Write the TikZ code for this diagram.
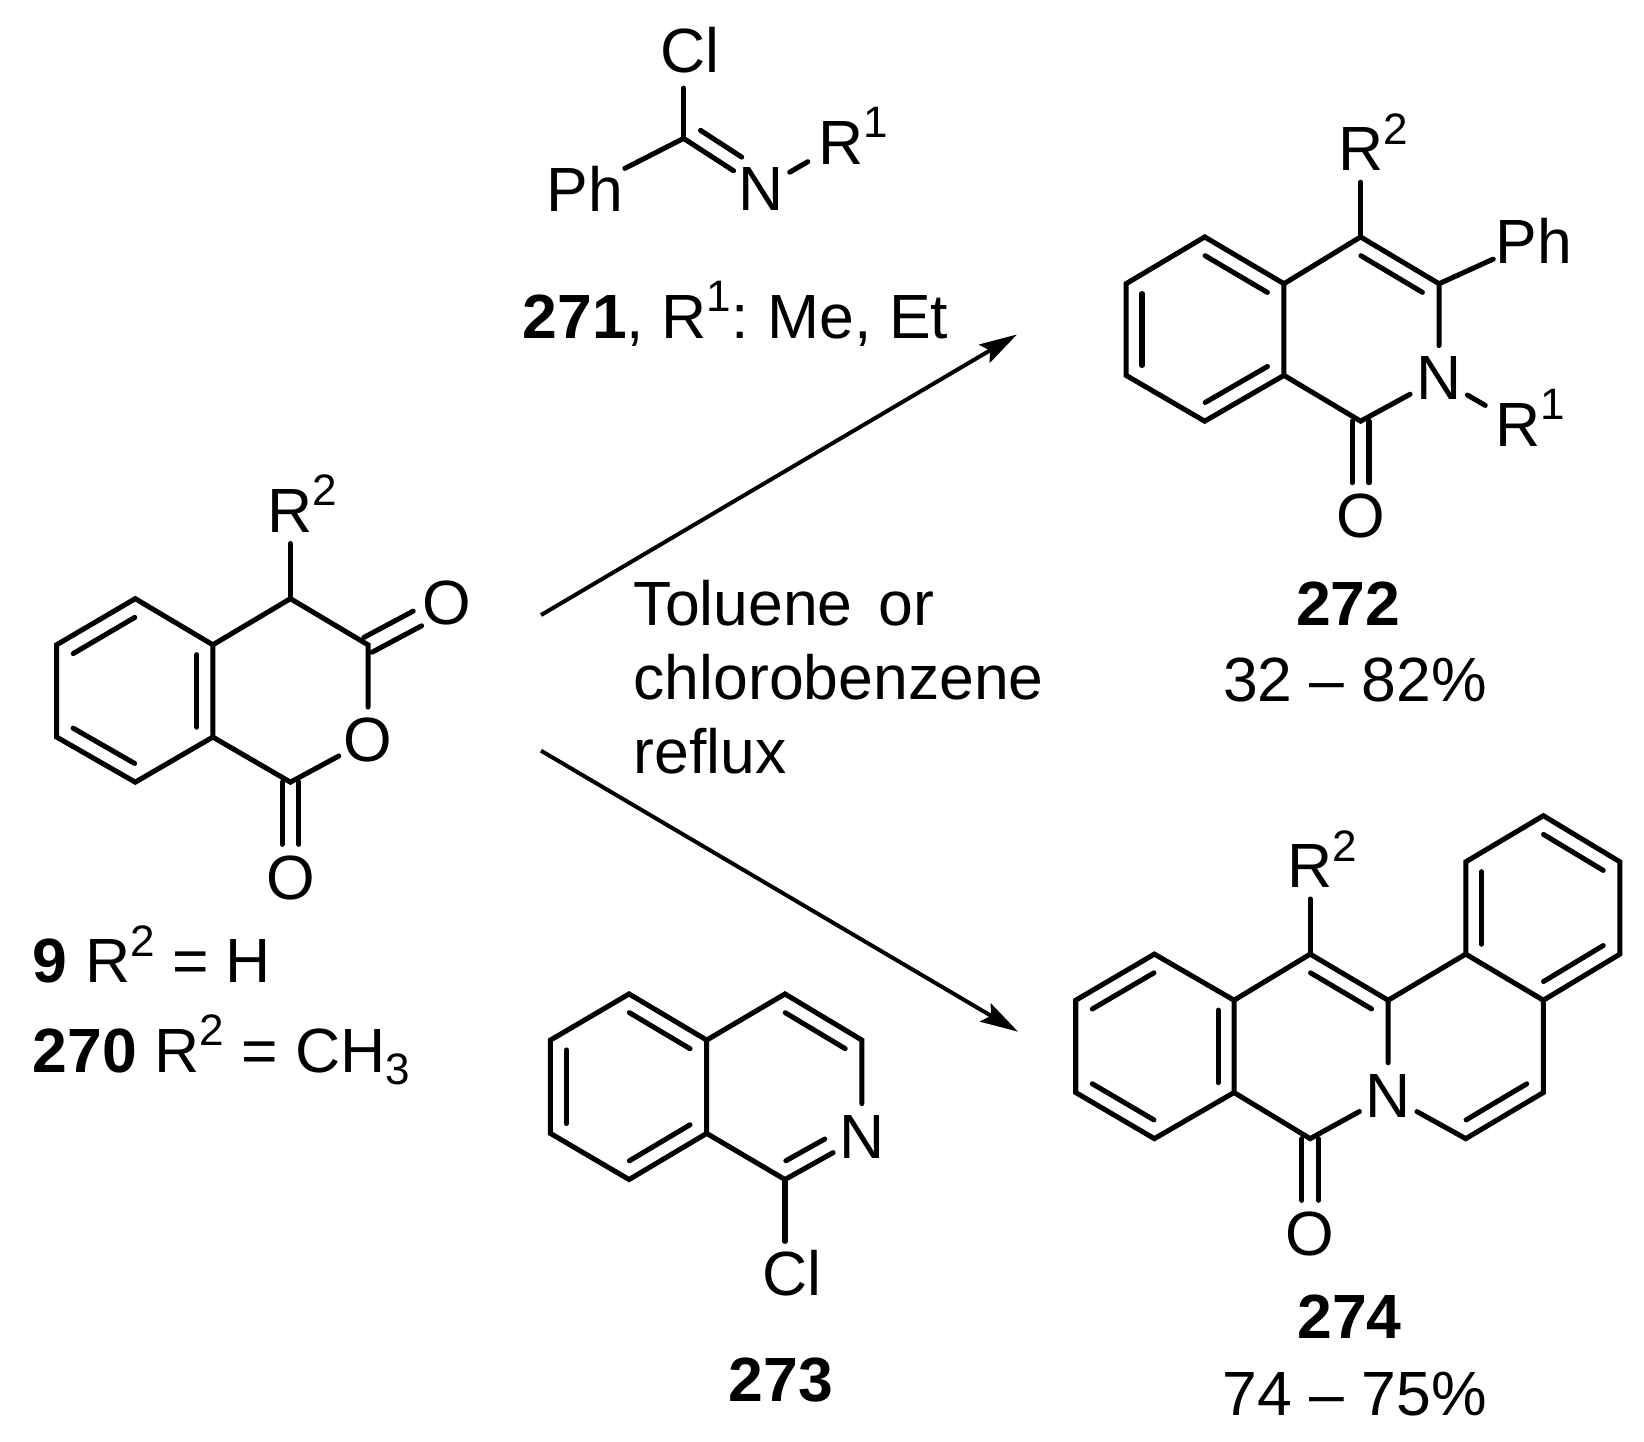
\documentclass[tikz,border=0pt]{standalone}
\usepackage{fontspec}
\setmainfont{Liberation Sans}
\usetikzlibrary{arrows.meta,calc}
\newcommand{\chemsize}{\fontsize{29.8}{29.8}\selectfont}
\newcommand{\supnum}[1]{\smash{\raisebox{12.6pt}{\fontsize{21}{21}\selectfont #1}}}
\newcommand{\subnum}[1]{\smash{\raisebox{-6pt}{\fontsize{21}{21}\selectfont #1}}}
\newcommand{\Rlab}[1]{R\rlap{\supnum{#1}}}
\newcommand{\inbond}[3][4.7pt]{\draw[bond] ($(#2)!4.7pt!(#3)!7.6pt!90:(#3)$) -- ($(#3)!#1!(#2)!7.6pt!-90:(#2)$);}

\begin{document}
\begin{tikzpicture}[x=.5pt,y=-.5pt,
    bond/.style={line width=2.4pt,line cap=round,line join=miter},
    atom/.style={circle,inner sep=0pt,minimum size=31pt,font=\chemsize},
    phatom/.style={atom,minimum size=38pt},
    ratom/.style={atom,minimum size=36pt},
    tag/.style={inner sep=0pt,anchor=base,font=\chemsize},
    lefttag/.style={tag,anchor=base west},
    rxn/.style={line width=1.9pt,-{Stealth[length=18pt,width=10pt,inset=3pt]}}]
    \useasboundingbox (0,0) rectangle (1568,1374.4);
    % 9 / 270
    \coordinate (A_1) at (129,571);
    \coordinate (A_2) at (54,615);
    \coordinate (A_3) at (54,703);
    \coordinate (A_4) at (129,746);
    \coordinate (A_5) at (203,703);
    \coordinate (A_6) at (203,615);
    \coordinate (A_7) at (277,571);
    \coordinate (A_8) at (351,615);
    \coordinate (A_9) at (277,746);
    \node[atom] (A_O1) at (351,706) {O};
    \node[atom] (A_O2) at (426,575) {O};
    \node[atom] (A_O3) at (277,837) {O};
    \node[atom] (A_R) at (277,487) {\Rlab{2}};
    \draw[bond] (A_1) -- (A_2) -- (A_3) -- (A_4) -- (A_5) -- (A_6) -- cycle;
    \draw[bond] (A_6) -- (A_7) -- (A_8) -- (A_O1) -- (A_9) -- (A_5);
    \draw[bond] (A_7) -- (A_R);
    \inbond{A_1}{A_2}
    \inbond{A_3}{A_4}
    \inbond{A_5}{A_6}
    \draw[bond,transform canvas={shift={(2pt,-3.5pt)}}] (A_8) -- (A_O2);
    \draw[bond,transform canvas={shift={(-2pt,3.5pt)}}] (A_8) -- (A_O2);
    \draw[bond,transform canvas={xshift=4pt}] (A_9) -- (A_O3);
    \draw[bond,transform canvas={xshift=-4pt}] (A_9) -- (A_O3);
    \node[lefttag] (A_t1) at (31,937) {\textbf{9} R\supnum{2} = H};
    \node[lefttag] (A_t2) at (31,1022.6) {\textbf{270} R\supnum{2} = CH\subnum{3}};
    % 271
    \coordinate (B_1) at (652,132);
    \node[atom] (B_Cl) at (658,48) {Cl};
    \node[phatom] (B_Ph) at (558,180) {Ph};
    \node[atom] (B_N) at (726,180) {N};
    \node[ratom] (B_R) at (802,136) {\Rlab{1}};
    \coordinate (B_2) at (652,48);
    \draw[bond] (B_1) -- (B_2 |- B_Cl.south);
    \draw[bond] (B_1) -- (B_Ph);
    \draw[bond] (B_1) -- (B_N) (B_N) -- (B_R);
    \inbond[16pt]{B_1}{B_N}
    \node[lefttag] (B_t) at (498,322.7) {\textbf{271}, R\supnum{1}: \kern-2pt Me, Et};
    % 272
    \coordinate (C_1) at (1149,226);
    \coordinate (C_2) at (1074,270.6);
    \coordinate (C_3) at (1074,358);
    \coordinate (C_4) at (1149,401.7);
    \coordinate (C_5) at (1224.6,358);
    \coordinate (C_6) at (1224.6,270.6);
    \coordinate (C_7) at (1297.7,226);
    \coordinate (C_8) at (1372.5,270.6);
    \coordinate (C_9) at (1297.7,401.7);
    \node[atom] (C_N) at (1372.5,361) {N};
    \node[atom] (C_O) at (1297.7,492) {O};
    \node[atom] (C_R2) at (1297.7,142.4) {\Rlab{2}};
    \node[ratom] (C_R1) at (1448,405) {\Rlab{1}};
    \node[phatom] (C_Ph) at (1463,229.5) {Ph};
    \draw[bond] (C_1) -- (C_2) -- (C_3) -- (C_4) -- (C_5) -- (C_6) -- cycle;
    \draw[bond] (C_6) -- (C_7) -- (C_8) -- (C_N) -- (C_9) -- (C_5);
    \draw[bond] (C_7) -- (C_R2);
    \draw[bond] (C_8) -- (C_Ph);
    \draw[bond] (C_N) -- (C_R1);
    \inbond{C_6}{C_1}
    \inbond{C_2}{C_3}
    \inbond{C_4}{C_5}
    \inbond{C_8}{C_7}
    \draw[bond,transform canvas={xshift=4pt}] (C_9) -- (C_O);
    \draw[bond,transform canvas={xshift=-4pt}] (C_9) -- (C_O);
    \node[tag] (C_t1) at (1286,597) {\textbf{272}};
    \node[tag] (C_t2) at (1292.4,669.5) {32 – 82\%};
    % 273
    \coordinate (D_1) at (600,948);
    \coordinate (D_2) at (525,992);
    \coordinate (D_3) at (525,1081);
    \coordinate (D_4) at (600,1125);
    \coordinate (D_5) at (674,1081);
    \coordinate (D_6) at (674,992);
    \coordinate (D_7) at (748.7,948);
    \coordinate (D_8) at (822,992);
    \coordinate (D_9) at (748.7,1125);
    \node[atom] (D_N) at (822,1084) {N};
    \node[atom] (D_Cl) at (755,1214) {Cl};
    \coordinate (D_10) at (748.7,1184);
    \draw[bond] (D_1) -- (D_2) -- (D_3) -- (D_4) -- (D_5) -- (D_6) -- cycle;
    \draw[bond] (D_6) -- (D_7) -- (D_8) -- (D_N) -- (D_9) -- (D_5);
    \draw[bond] (D_9) -- (D_10);
    \inbond{D_6}{D_1}
    \inbond{D_2}{D_3}
    \inbond{D_4}{D_5}
    \inbond{D_8}{D_7}
    \inbond[16pt]{D_9}{D_N}
    \node[tag] (D_t) at (744.6,1337) {\textbf{273}};
    % 274
    \coordinate (E_1) at (1101,910);
    \coordinate (E_2) at (1026,954);
    \coordinate (E_3) at (1026,1042);
    \coordinate (E_4) at (1101,1086);
    \coordinate (E_5) at (1177,1042);
    \coordinate (E_6) at (1177,954);
    \coordinate (E_7) at (1249.6,910);
    \coordinate (E_8) at (1324,954);
    \coordinate (E_9) at (1249.6,1086);
    \coordinate (E_10) at (1398,910);
    \coordinate (E_11) at (1398,822);
    \coordinate (E_12) at (1472,778);
    \coordinate (E_13) at (1545,822);
    \coordinate (E_14) at (1545,910);
    \coordinate (E_15) at (1472,954);
    \coordinate (E_16) at (1472,1042);
    \coordinate (E_17) at (1398,1086);
    \node[atom] (E_N) at (1324,1045) {N};
    \node[atom] (E_O) at (1249.6,1176.5) {O};
    \node[atom] (E_R) at (1249.6,826) {\Rlab{2}};
    \draw[bond] (E_1) -- (E_2) -- (E_3) -- (E_4) -- (E_5) -- (E_6) -- cycle;
    \draw[bond] (E_6) -- (E_7) -- (E_8) -- (E_N) -- (E_9) -- (E_5);
    \draw[bond] (E_7) -- (E_R);
    \draw[bond] (E_10) -- (E_11) -- (E_12) -- (E_13) -- (E_14) -- (E_15) -- cycle;
    \draw[bond] (E_8) -- (E_10);
    \draw[bond] (E_15) -- (E_16) -- (E_17) -- (E_N);
    \inbond{E_1}{E_2}
    \inbond{E_3}{E_4}
    \inbond{E_5}{E_6}
    \inbond{E_8}{E_7}
    \inbond{E_11}{E_10}
    \inbond{E_13}{E_12}
    \inbond{E_15}{E_14}
    \inbond{E_17}{E_16}
    \draw[bond,transform canvas={xshift=4pt}] (E_9) -- (E_O);
    \draw[bond,transform canvas={xshift=-4pt}] (E_9) -- (E_O);
    \node[tag] (E_t1) at (1287,1277) {\textbf{274}};
    \node[tag] (E_t2) at (1292,1350) {74 – 75\%};
    % arrows
    \coordinate (F_1) at (516,586.6);
    \coordinate (F_2) at (970,319);
    \coordinate (F_3) at (516,716);
    \coordinate (F_4) at (971,984);
    \draw[rxn] (F_1) -- (F_2);
    \draw[rxn] (F_3) -- (F_4);
    \node[lefttag] (F_t1) at (604,597) {Toluene\kern4pt{} or};
    \node[lefttag] (F_t2) at (604,667) {chlorobenzene};
    \node[lefttag] (F_t3) at (604,738) {reflux};
\end{tikzpicture}
\end{document}
